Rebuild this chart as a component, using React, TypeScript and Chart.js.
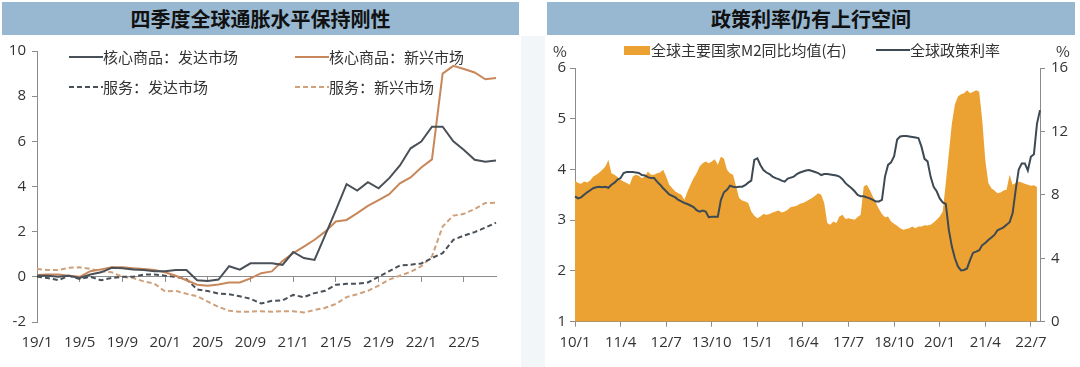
import React, { useEffect, useRef } from 'react';
import { Chart, registerables } from 'chart.js';

Chart.register(...registerables);

// ---------- Left chart data (monthly, 19/1 .. 22/8) ----------
const inflLabels: string[] = [];
for (let i = 0; i < 44; i++) {
  const y = 19 + Math.floor(i / 12);
  const m = (i % 12) + 1;
  inflLabels.push(`${y}/${m}`);
}

const coreGoodsDM = [
  0.05, 0.05, 0.0, 0.05, -0.05, 0.1, 0.2, 0.4, 0.38, 0.33,
  0.3, 0.25, 0.25, 0.3, 0.3, -0.15, -0.18, -0.12, 0.47, 0.32,
  0.6, 0.6, 0.6, 0.53, 1.1, 0.83, 0.75, 1.85, 2.95, 4.1,
  3.82, 4.19, 3.92, 4.37, 4.93, 5.69, 5.99, 6.65, 6.65, 6.0,
  5.62, 5.18, 5.1, 5.15,
];
const coreGoodsEM = [
  0.08, 0.1, 0.1, 0.05, 0.0, 0.25, 0.33, 0.42, 0.42, 0.38,
  0.35, 0.3, 0.2, 0.05, -0.15, -0.35, -0.4, -0.34, -0.25, -0.25,
  -0.07, 0.16, 0.24, 0.7, 1.05, 1.34, 1.64, 2.0, 2.45, 2.52,
  2.82, 3.14, 3.4, 3.66, 4.14, 4.4, 4.84, 5.2, 9.0, 9.34,
  9.2, 9.05, 8.75, 8.8,
];
const servicesDM = [
  0.0, -0.05, -0.15, 0.05, -0.1, 0.0, -0.15, -0.05, 0.0, 0.0,
  0.1, 0.1, 0.05, 0.0, -0.1, -0.56, -0.63, -0.74, -0.77, -0.86,
  -0.97, -1.18, -1.06, -1.04, -0.8, -0.9, -0.72, -0.62, -0.35, -0.31,
  -0.3, -0.25, 0.0, 0.25, 0.5, 0.54, 0.59, 0.83, 1.05, 1.64,
  1.83, 1.98, 2.18, 2.4,
];
const servicesEM = [
  0.35, 0.3, 0.3, 0.4, 0.42, 0.35, 0.25, 0.2, 0.0, -0.05,
  -0.2, -0.3, -0.65, -0.62, -0.75, -0.86, -1.1, -1.33, -1.5, -1.55,
  -1.54, -1.52, -1.55, -1.52, -1.52, -1.58, -1.47, -1.37, -1.2, -0.9,
  -0.77, -0.62, -0.39, -0.12, 0.05, 0.22, 0.47, 0.9, 2.23, 2.71,
  2.79, 3.0, 3.27, 3.28,
];
const inflTicks = [-2, 0, 2, 4, 6, 8, 10];

// ---------- Right chart data (monthly, 10/1 .. 22/10) ----------
const rateLabels: string[] = [];
for (let i = 0; i < 154; i++) {
  const y = 10 + Math.floor(i / 12);
  const m = (i % 12) + 1;
  rateLabels.push(`${y}/${m}`);
}

const m2Yoy: (number | null)[] = [
  8.9, 8.74, 8.7, 8.84, 8.78, 8.9, 9.16, 9.26, 9.41, 9.58,
  9.79, 10.2, 9.37, 9.26, 9.12, 8.95, 8.84, 8.74, 8.63, 9.16,
  9.26, 9.2, 9.05, 9.16, 9.47, 9.26, 9.26, 9.37, 9.41, 9.58,
  9.16, 8.63, 8.42, 8.21, 8.1, 8.0, 7.69, 8.21, 8.63, 9.05,
  9.37, 9.79, 10.0, 10.1, 10.0, 10.1, 10.25, 9.9, 10.4, 10.3,
  9.58, 9.37, 9.26, 8.53, 7.8, 7.65, 7.58, 7.48, 6.95, 6.68,
  6.53, 6.64, 6.8, 6.74, 6.8, 6.89, 6.95, 7.02, 6.89, 6.95,
  7.06, 7.23, 7.27, 7.31, 7.44, 7.48, 7.58, 7.69, 7.8, 7.94,
  8.1, 8.0, 7.48, 6.22, 6.11, 6.32, 6.22, 6.64, 6.74, 6.47,
  6.53, 6.47, 6.43, 6.6, 6.74, 8.53, 8.63, 8.3, 7.9, 7.5,
  7.1, 6.8, 6.58, 6.64, 6.32, 6.18, 6.05, 5.9, 5.8, 5.84,
  5.9, 6.0, 5.9, 6.0, 6.0, 6.09, 6.07, 6.11, 6.26, 6.43,
  6.64, 6.95, 8.74, 10.6, 12.5, 13.7, 14.2, 14.35, 14.4, 14.6,
  14.4, 14.5, 14.6, 14.5, 12.7, 10.2, 8.74, 8.42, 8.28, 8.1,
  8.15, 8.28, 8.32, 9.26, 8.63, 8.74, 8.84, 8.78, 8.7, 8.63,
  8.57, 8.6, 8.5, null,
];
const policyRate = [
  3.47, 3.43, 3.45, 3.5, 3.55, 3.59, 3.63, 3.65, 3.66, 3.65,
  3.66, 3.64, 3.7, 3.74, 3.8, 3.83, 3.93, 3.95, 3.95, 3.95,
  3.94, 3.93, 3.89, 3.88, 3.85, 3.83, 3.83, 3.76, 3.7, 3.63,
  3.57, 3.51, 3.48, 3.45, 3.4, 3.37, 3.34, 3.32, 3.29, 3.26,
  3.2, 3.17, 3.19, 3.17, 3.06, 3.07, 3.07, 3.07, 3.4, 3.55,
  3.6, 3.68, 3.66, 3.65, 3.66, 3.66, 3.69, 3.74, 3.78, 4.19,
  4.22, 4.09, 3.99, 3.94, 3.91, 3.86, 3.83, 3.81, 3.78, 3.76,
  3.82, 3.84, 3.86, 3.91, 3.94, 3.96, 3.98, 3.99, 3.97, 3.95,
  3.93, 3.89, 3.91, 3.91, 3.9, 3.89, 3.88, 3.86, 3.81, 3.73,
  3.68, 3.63, 3.57, 3.5, 3.47, 3.47, 3.45, 3.43, 3.4, 3.37,
  3.37, 3.4, 3.86, 4.09, 4.14, 4.26, 4.59, 4.65, 4.66, 4.66,
  4.65, 4.64, 4.63, 4.62, 4.45, 4.21, 4.16, 3.86, 3.66, 3.57,
  3.43, 3.35, 3.32, 2.81, 2.48, 2.25, 2.09, 2.01, 2.02, 2.05,
  2.22, 2.36, 2.38, 2.41, 2.51, 2.55, 2.61, 2.66, 2.71, 2.8,
  2.83, 2.86, 2.91, 2.96, 3.14, 3.6, 4.0, 4.12, 4.12, 3.98,
  4.25, 4.3, 4.9, 5.17,
];

// ---------- Styles ----------
const DARK = '#4a5057';
const ORANGE_LINE = '#c8875a';
const TAN_DASH = '#cfa07c';
const SLATE = '#3d4953';
const AREA = '#eca232';
const AXIS = '#8c8c8c';
const TEXT = '#333333';
const TITLE_BG = '#97b8d0';
const CJK = '"Noto Sans CJK SC", "Noto Sans", sans-serif';
const NUM_FONT = { family: '"Open Sans", "Noto Sans", sans-serif', size: 15 };
const TRANSPARENT = 'rgba(0,0,0,0)';

function InflationChart() {
  const ref = useRef<HTMLCanvasElement | null>(null);
  useEffect(() => {
    if (!ref.current) return;
    const chart = new Chart(ref.current, {
      type: 'line',
      data: {
        labels: inflLabels,
        datasets: [
          { label: '核心商品：发达市场', data: coreGoodsDM, borderColor: DARK, borderWidth: 2, pointRadius: 0, tension: 0, fill: false },
          { label: '核心商品：新兴市场', data: coreGoodsEM, borderColor: ORANGE_LINE, borderWidth: 2, pointRadius: 0, tension: 0, fill: false },
          { label: '服务：发达市场', data: servicesDM, borderColor: DARK, borderWidth: 2, borderDash: [5, 3], pointRadius: 0, tension: 0, fill: false },
          { label: '服务：新兴市场', data: servicesEM, borderColor: TAN_DASH, borderWidth: 2, borderDash: [5, 3], pointRadius: 0, tension: 0, fill: false },
        ],
      },
      options: {
        animation: false,
        responsive: false,
        maintainAspectRatio: false,
        layout: { padding: { left: 0, right: 24, top: 15, bottom: 0 } },
        plugins: { legend: { display: false }, tooltip: { enabled: false } },
        scales: {
          x: {
            type: 'category',
            position: 'bottom',
            grid: { display: false, drawTicks: false },
            border: { display: false },
            ticks: {
              autoSkip: false,
              maxRotation: 0,
              minRotation: 0,
              padding: 12,
              color: TEXT,
              font: NUM_FONT,
              callback: (_v: any, i: number) => (i % 4 === 0 ? inflLabels[i] : ''),
            },
            afterFit: (s: any) => { s.height = 45; },
          },
          x2: {
            type: 'category',
            position: { y: 0 },
            grid: {
              drawOnChartArea: false,
              drawTicks: true,
              tickLength: 5,
              color: (c: any) => (c.index % 4 === 0 ? AXIS : TRANSPARENT),
            },
            border: { display: true, color: AXIS, width: 1 },
            ticks: { display: false, autoSkip: false },
          },
          y: {
            min: inflTicks[0],
            max: inflTicks[inflTicks.length - 1],
            afterBuildTicks: (s: any) => { s.ticks = inflTicks.map((v) => ({ value: v })); },
            ticks: { color: TEXT, font: NUM_FONT, padding: 6 },
            grid: { drawOnChartArea: false, drawTicks: true, tickLength: 5, color: AXIS },
            border: { display: true, color: AXIS, width: 1 },
            afterFit: (s: any) => { s.width = 37; },
          },
        },
      } as any,
    });
    return () => chart.destroy();
  }, []);
  return <canvas ref={ref} width={520} height={331} style={{ position: 'absolute', left: 0, top: 36, width: 520, height: 331 }} />;
}

function RateChart() {
  const ref = useRef<HTMLCanvasElement | null>(null);
  useEffect(() => {
    if (!ref.current) return;
    const chart = new Chart(ref.current, {
      type: 'line',
      data: {
        labels: rateLabels,
        datasets: [
          { label: '全球政策利率', data: policyRate, yAxisID: 'y', borderColor: SLATE, borderWidth: 2, pointRadius: 0, tension: 0, fill: false, order: 0 },
          { label: '全球主要国家M2同比均值(右)', data: m2Yoy, yAxisID: 'y1', borderColor: AREA, borderWidth: 0, backgroundColor: AREA, pointRadius: 0, tension: 0, fill: 'start', order: 1 },
        ],
      },
      options: {
        animation: false,
        responsive: false,
        maintainAspectRatio: false,
        layout: { padding: { left: 0, right: 0, top: 32, bottom: 0 } },
        plugins: { legend: { display: false }, tooltip: { enabled: false } },
        scales: {
          x: {
            type: 'category',
            grid: {
              drawOnChartArea: false,
              drawTicks: true,
              tickLength: 5,
              color: (c: any) => (c.index % 15 === 0 ? AXIS : TRANSPARENT),
            },
            border: { display: true, color: AXIS, width: 1 },
            ticks: {
              autoSkip: false,
              maxRotation: 0,
              minRotation: 0,
              padding: 7,
              color: TEXT,
              font: NUM_FONT,
              callback: (_v: any, i: number) => (i % 15 === 0 ? rateLabels[i] : ''),
            },
            afterFit: (s: any) => { s.height = 45.3; },
          },
          y: {
            position: 'left',
            min: 1,
            max: 6,
            ticks: { stepSize: 1, color: TEXT, font: NUM_FONT, padding: 4 },
            grid: { drawOnChartArea: false, drawTicks: true, tickLength: 5, color: AXIS },
            border: { display: true, color: AXIS, width: 1 },
            afterFit: (s: any) => { s.width = 35; },
          },
          y1: {
            position: 'right',
            min: 0,
            max: 16,
            ticks: { stepSize: 4, color: TEXT, font: NUM_FONT, padding: 6 },
            grid: { drawOnChartArea: false, drawTicks: true, tickLength: 5, color: AXIS },
            border: { display: true, color: AXIS, width: 1 },
            afterFit: (s: any) => { s.width = 40; },
          },
        },
      } as any,
    });
    return () => chart.destroy();
  }, []);
  return <canvas ref={ref} width={540} height={331} style={{ position: 'absolute', left: 540, top: 36, width: 540, height: 331 }} />;
}

function LineSample({ x, y, color, dashed }: { x: number; y: number; color: string; dashed?: boolean }) {
  return (
    <svg width={34} height={6} style={{ position: 'absolute', left: x, top: y - 3 }}>
      <line x1={0} y1={3} x2={34} y2={3} stroke={color} strokeWidth={2} strokeDasharray={dashed ? '5 3' : undefined} />
    </svg>
  );
}

function LegendText({ x, y, text }: { x: number; y: number; text: string }) {
  return (
    <div style={{ position: 'absolute', left: x, top: y - 10, height: 20, lineHeight: '20px', fontFamily: CJK, fontSize: 15, color: TEXT, whiteSpace: 'nowrap' }}>
      {text}
    </div>
  );
}

function TitleBar({ left, width, text }: { left: number; width: number; text: string }) {
  return (
    <div style={{ position: 'absolute', left, top: 2, width, height: 33, background: TITLE_BG, display: 'flex', alignItems: 'center', justifyContent: 'center', fontFamily: CJK, fontWeight: 700, fontSize: 20, color: '#111' }}>
      {text}
    </div>
  );
}

export default function App() {
  return (
    <div style={{ position: 'fixed', left: 0, top: 0, width: 1080, height: 367, background: '#ffffff', overflow: 'hidden' }}>
      <div style={{ position: 'absolute', left: 521, top: 36, width: 24, height: 331, background: '#f3f6f8' }} />
      <TitleBar left={2} width={517} text="四季度全球通胀水平保持刚性" />
      <TitleBar left={547} width={528} text="政策利率仍有上行空间" />
      <InflationChart />
      <RateChart />
      {/* left legend */}
      <LineSample x={69} y={57} color={DARK} />
      <LegendText x={103} y={57} text="核心商品：发达市场" />
      <LineSample x={295} y={57} color={ORANGE_LINE} />
      <LegendText x={329} y={57} text="核心商品：新兴市场" />
      <LineSample x={69} y={87} color={DARK} dashed />
      <LegendText x={103} y={87} text="服务：发达市场" />
      <LineSample x={295} y={87} color={TAN_DASH} dashed />
      <LegendText x={329} y={87} text="服务：新兴市场" />
      {/* right legend */}
      <div style={{ position: 'absolute', left: 624, top: 46, width: 26, height: 9, background: AREA }} />
      <LegendText x={651} y={50} text="全球主要国家M2同比均值(右)" />
      <LineSample x={876} y={50} color={SLATE} />
      <LegendText x={910} y={50} text="全球政策利率" />
      {/* unit labels */}
      <LegendText x={553} y={51} text="%" />
      <LegendText x={1056} y={51} text="%" />
    </div>
  );
}
